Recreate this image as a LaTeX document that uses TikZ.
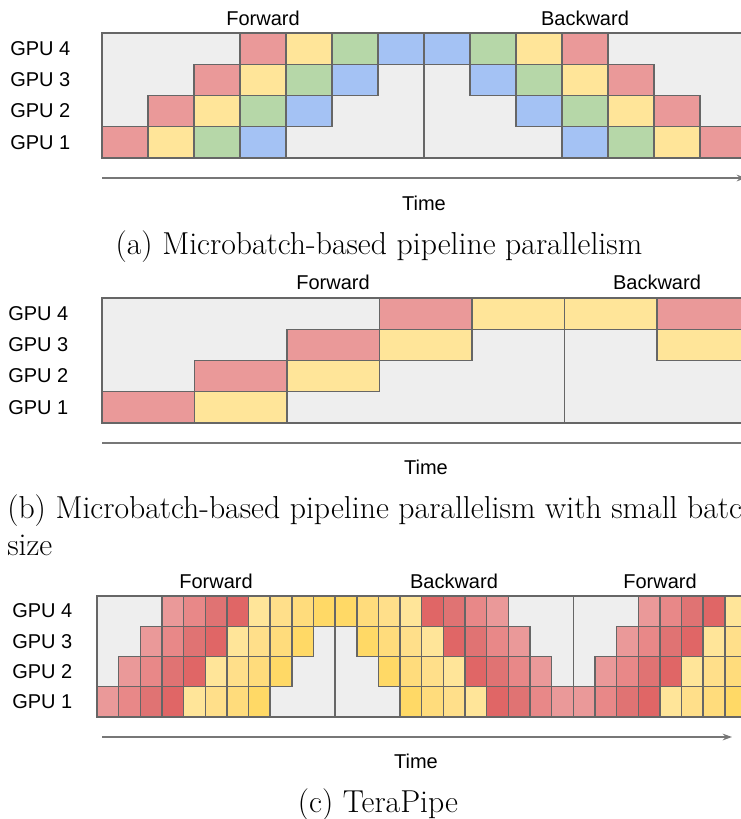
\documentclass[tikz,border=0pt]{standalone}
\usepackage{fontspec}
\newfontfamily\arial{Liberation Sans}
\usetikzlibrary{arrows.meta}
\definecolor{bg}{HTML}{EEEEEE}
\definecolor{edge}{HTML}{666666}
\definecolor{axisc}{HTML}{777777}
\definecolor{cR}{HTML}{EA9999}
\definecolor{cY}{HTML}{FFE599}
\definecolor{cG}{HTML}{B6D7A8}
\definecolor{cB}{HTML}{A4C2F4}
\definecolor{rA}{HTML}{EA9999}
\definecolor{rB}{HTML}{E88888}
\definecolor{rC}{HTML}{E07373}
\definecolor{rD}{HTML}{E06666}
\definecolor{yA}{HTML}{FFE599}
\definecolor{yB}{HTML}{FFDF8A}
\definecolor{yC}{HTML}{FFDC7C}
\definecolor{yD}{HTML}{FFD966}
\begin{document}
\begin{tikzpicture}[x=0.75pt,y=-0.75pt,
  cell/.style={draw=edge,line width=1.1pt},
  lbl/.style={font=\arial\fontsize{15}{18}\selectfont,inner sep=0pt},
  captext/.style={font=\fontsize{23.8}{27.75}\selectfont,inner sep=0pt},
  axisline/.style={draw=axisc,line width=1pt,-{Stealth[length=7pt,width=5pt]}}]
\useasboundingbox (0,0) rectangle (741,819);
\clip (0,0) rectangle (741,819);
\fill[white] (0,0) rectangle (741,819);

% ---------- Panel (a)
\draw[cell,fill=bg] (102,33) rectangle (760,158);
\draw[cell] (424,64.25) -- (424,158);
\foreach \r in {0,...,3}{
  \pgfmathtruncatemacro\s{3-\r}
  \pgfmathtruncatemacro\b{7+\r}
  \foreach \c [count=\i from 0] in {cR,cY,cG,cB}{
    \draw[cell,fill=\c] ({102+46*(\s+\i)},{33+31.25*\r}) rectangle ++(46,31.25);
  }
  \foreach \c [count=\i from 0] in {cB,cG,cY,cR}{
    \draw[cell,fill=\c] ({102+46*(\b+\i)},{33+31.25*\r}) rectangle ++(46,31.25);
  }
}
\node[lbl] (afw) at (263,18) {Forward};
\node[lbl] (abw) at (585,18) {Backward};
\node[lbl,anchor=west] (ag4) at (10,48.5) {GPU 4};
\node[lbl,anchor=west] (ag3) at (10,79.5) {GPU 3};
\node[lbl,anchor=west] (ag2) at (10,111) {GPU 2};
\node[lbl,anchor=west] (ag1) at (10,142.5) {GPU 1};
\coordinate (aS) at (102,178);
\coordinate (aE) at (746,178);
\draw[axisline] (aS) -- (aE);
\node[lbl] (atime) at (424,203) {Time};
\node[captext,anchor=base] (capa) at (379,254) {(a) Microbatch-based pipeline parallelism};

% ---------- Panel (b)
\draw[cell,fill=bg] (102,298) rectangle (760,423);
\draw[cell] (564.5,329.25) -- (564.5,423);
\foreach \r/\k/\c in {0/3/cR,0/4/cY,0/5/cY,0/6/cR,1/2/cR,1/3/cY,1/6/cY,2/1/cR,2/2/cY,3/0/cR,3/1/cY}{
  \draw[cell,fill=\c] ({102+92.5*\k},{298+31.25*\r}) rectangle ++(92.5,31.25);
}
\node[lbl] (bfw) at (333,282) {Forward};
\node[lbl] (bbw) at (657,282) {Backward};
\node[lbl,anchor=west] (bg4) at (8,313.5) {GPU 4};
\node[lbl,anchor=west] (bg3) at (8,344.5) {GPU 3};
\node[lbl,anchor=west] (bg2) at (8,376) {GPU 2};
\node[lbl,anchor=west] (bg1) at (8,407.5) {GPU 1};
\coordinate (bS) at (102,443);
\coordinate (bE) at (765,443);
\draw[axisline] (bS) -- (bE);
\node[lbl] (btime) at (426,467) {Time};
\node[captext,anchor=base west,align=left] (capb) at (7,555) {(b) Microbatch-based pipeline parallelism with small batch\\size};

% ---------- Panel (c)
\draw[cell,fill=bg] (97,596) rectangle (760,717);
\draw[cell] ({97+21.65*11},626.25) -- ({97+21.65*11},717);
\draw[cell] ({97+21.65*22},596) -- ({97+21.65*22},686.75);
\foreach \r in {0,...,3}{
  \pgfmathtruncatemacro\s{3-\r}
  \pgfmathtruncatemacro\b{11+\r}
  \pgfmathtruncatemacro\f{25-\r}
  \foreach \c [count=\i from 0] in {rA,rB,rC,rD,yA,yB,yC,yD}{
    \draw[cell,fill=\c] ({97+21.65*(\s+\i)},{596+30.25*\r}) rectangle ++(21.65,30.25);
    \draw[cell,fill=\c] ({97+21.65*(\f+\i)},{596+30.25*\r}) rectangle ++(21.65,30.25);
  }
  \foreach \c [count=\i from 0] in {yD,yC,yB,yA,rD,rC,rB,rA}{
    \draw[cell,fill=\c] ({97+21.65*(\b+\i)},{596+30.25*\r}) rectangle ++(21.65,30.25);
  }
}
\node[lbl] (cfw1) at (216,581) {Forward};
\node[lbl] (cbw) at (454,581) {Backward};
\node[lbl] (cfw2) at (660,581) {Forward};
\node[lbl,anchor=west] (cg4) at (12,611) {GPU 4};
\node[lbl,anchor=west] (cg3) at (12,641.5) {GPU 3};
\node[lbl,anchor=west] (cg2) at (12,672) {GPU 2};
\node[lbl,anchor=west] (cg1) at (12,702) {GPU 1};
\coordinate (cS) at (102,737);
\coordinate (cE) at (732,737);
\draw[axisline] (cS) -- (cE);
\node[lbl] (ctime) at (416,761) {Time};
\node[captext,anchor=base] (capc) at (378,812) {(c) TeraPipe};
\end{tikzpicture}
\end{document}
